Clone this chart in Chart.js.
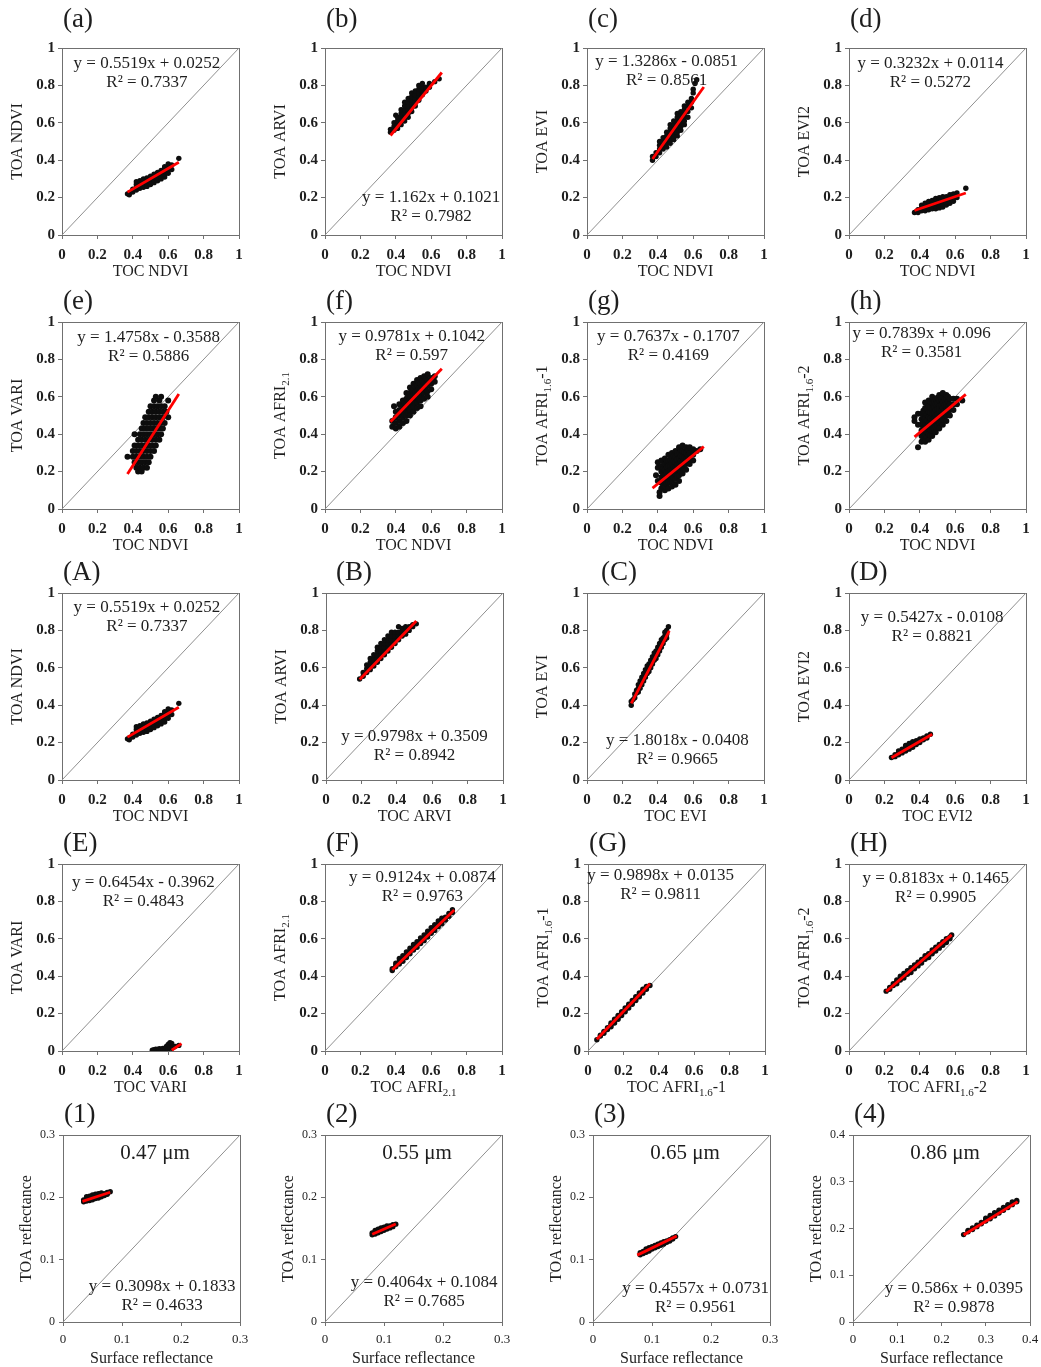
<!DOCTYPE html>
<html>
<head>
<meta charset="utf-8">
<script src="https://cdn.jsdelivr.net/npm/chart.js@4.4.1/dist/chart.umd.min.js"></script>
<style>
  html, body { margin: 0; background: #fff; overflow: hidden; }
  #fig { position: relative; width: 1041px; height: 1367px; overflow: hidden; }
  #fig canvas { position: absolute; }
</style>
</head>
<body>
<div id="fig"></div>
<script>
'use strict';

// Scatter readings: each entry is [TOC value, [TOA values at that TOC value]]
const cloud_a = [
  [0.37, [0.22]], [0.38, [0.215, 0.225]], [0.40, [0.23, 0.245]],
  [0.42, [0.24, 0.255, 0.27, 0.285]], [0.44, [0.25, 0.265, 0.28, 0.29]],
  [0.46, [0.255, 0.27, 0.285, 0.30]], [0.48, [0.26, 0.275, 0.29, 0.305]],
  [0.50, [0.27, 0.285, 0.30, 0.315]], [0.52, [0.28, 0.295, 0.31, 0.325]],
  [0.54, [0.29, 0.305, 0.32, 0.335]], [0.56, [0.30, 0.315, 0.33, 0.345]],
  [0.58, [0.31, 0.325, 0.34, 0.355, 0.365]], [0.60, [0.33, 0.35, 0.37, 0.38]],
  [0.62, [0.35, 0.375]], [0.66, [0.41]]
];
const cloud_b = [
  [0.37, [0.55, 0.565]], [0.39, [0.56, 0.58, 0.60]], [0.40, [0.64]],
  [0.41, [0.57, 0.59, 0.61, 0.63]], [0.43, [0.59, 0.61, 0.63, 0.65, 0.67]],
  [0.45, [0.61, 0.63, 0.65, 0.67, 0.69, 0.71]], [0.47, [0.63, 0.65, 0.67, 0.69, 0.71, 0.73]],
  [0.49, [0.66, 0.68, 0.70, 0.72, 0.74, 0.76]], [0.51, [0.69, 0.71, 0.73, 0.75, 0.77]],
  [0.53, [0.72, 0.74, 0.76, 0.78, 0.80]], [0.55, [0.75, 0.77, 0.79, 0.81]],
  [0.57, [0.77, 0.79]], [0.59, [0.79, 0.81]], [0.62, [0.82]], [0.645, [0.835]]
];
const cloud_c = [
  [0.37, [0.40, 0.42]], [0.39, [0.42, 0.44]], [0.41, [0.44, 0.46, 0.48, 0.50]],
  [0.43, [0.46, 0.48, 0.50, 0.52]], [0.45, [0.47, 0.49, 0.51, 0.53, 0.55]],
  [0.47, [0.49, 0.51, 0.53, 0.55, 0.57, 0.59]], [0.49, [0.51, 0.53, 0.55, 0.57, 0.59, 0.61]],
  [0.51, [0.53, 0.55, 0.57, 0.59, 0.61, 0.63, 0.65]], [0.53, [0.56, 0.58, 0.60, 0.62, 0.64, 0.66]],
  [0.55, [0.59, 0.61, 0.63, 0.65, 0.67, 0.69]], [0.57, [0.63, 0.66, 0.69, 0.71]],
  [0.59, [0.68, 0.71, 0.73]], [0.60, [0.76, 0.78]], [0.61, [0.81]], [0.62, [0.83]]
];
const cloud_d = [
  [0.37, [0.12]], [0.39, [0.12, 0.135]], [0.41, [0.13, 0.145, 0.16]],
  [0.43, [0.13, 0.145, 0.16, 0.17]], [0.45, [0.135, 0.15, 0.165, 0.18]],
  [0.47, [0.14, 0.155, 0.17, 0.185]], [0.49, [0.14, 0.155, 0.17, 0.185, 0.195]],
  [0.51, [0.145, 0.16, 0.175, 0.19, 0.20]], [0.53, [0.15, 0.165, 0.18, 0.195, 0.205]],
  [0.55, [0.16, 0.175, 0.19, 0.205]], [0.57, [0.17, 0.185, 0.20, 0.215]],
  [0.59, [0.18, 0.195, 0.21, 0.22]], [0.61, [0.20, 0.225]], [0.66, [0.25]]
];
const cloud_e = [
  [0.37, [0.28]], [0.40, [0.28, 0.31]], [0.41, [0.25, 0.34, 0.40]],
  [0.42, [0.22, 0.28, 0.31]], [0.43, [0.20, 0.25, 0.34, 0.37]],
  [0.44, [0.22, 0.28, 0.31, 0.40]], [0.45, [0.20, 0.25, 0.34, 0.37, 0.43]],
  [0.46, [0.22, 0.28, 0.31, 0.40, 0.46]], [0.47, [0.25, 0.34, 0.37, 0.43, 0.49]],
  [0.48, [0.22, 0.28, 0.31, 0.40, 0.46]], [0.49, [0.25, 0.34, 0.37, 0.43, 0.49, 0.52]],
  [0.50, [0.28, 0.31, 0.40, 0.46, 0.55]], [0.51, [0.34, 0.37, 0.43, 0.49, 0.52]],
  [0.52, [0.31, 0.40, 0.46, 0.55, 0.58]], [0.53, [0.34, 0.37, 0.43, 0.49, 0.52, 0.60]],
  [0.54, [0.40, 0.46, 0.55]], [0.55, [0.37, 0.43, 0.49, 0.52, 0.58]],
  [0.56, [0.40, 0.46, 0.55, 0.60]], [0.57, [0.43, 0.49, 0.52]],
  [0.58, [0.46, 0.55]], [0.59, [0.52]], [0.60, [0.49, 0.58]]
];
const cloud_f = [
  [0.38, [0.44, 0.47]], [0.39, [0.55]], [0.40, [0.43, 0.46, 0.49, 0.52]],
  [0.42, [0.44, 0.47, 0.50, 0.53, 0.56]], [0.44, [0.46, 0.49, 0.52, 0.55, 0.58]],
  [0.45, [0.505, 0.535, 0.565]], [0.46, [0.47, 0.50, 0.53, 0.56, 0.59, 0.62]],
  [0.47, [0.515, 0.545, 0.575, 0.605]], [0.48, [0.50, 0.53, 0.56, 0.59, 0.62, 0.65]],
  [0.49, [0.545, 0.575, 0.605, 0.635]], [0.50, [0.52, 0.55, 0.58, 0.61, 0.64, 0.67]],
  [0.51, [0.565, 0.595, 0.625, 0.655]], [0.52, [0.54, 0.57, 0.60, 0.63, 0.66, 0.69]],
  [0.53, [0.585, 0.615, 0.645, 0.675]], [0.54, [0.55, 0.58, 0.61, 0.64, 0.67, 0.70]],
  [0.55, [0.595, 0.625, 0.655, 0.685]], [0.56, [0.59, 0.62, 0.65, 0.68, 0.71]],
  [0.57, [0.635, 0.665, 0.695]], [0.58, [0.60, 0.63, 0.66, 0.69, 0.72]],
  [0.60, [0.64, 0.67, 0.70]], [0.62, [0.68, 0.71]]
];
const cloud_g = [
  [0.39, [0.18]], [0.40, [0.15, 0.22, 0.25]], [0.41, [0.07, 0.09]],
  [0.42, [0.11, 0.14, 0.17, 0.20, 0.23, 0.26]], [0.43, [0.125, 0.155, 0.185, 0.215]],
  [0.44, [0.10, 0.12, 0.15, 0.18, 0.21, 0.24, 0.27]], [0.45, [0.135, 0.165, 0.195, 0.225, 0.255]],
  [0.46, [0.11, 0.14, 0.17, 0.20, 0.23, 0.26, 0.29]], [0.47, [0.145, 0.175, 0.205, 0.235, 0.265]],
  [0.48, [0.12, 0.15, 0.18, 0.21, 0.24, 0.27, 0.30]], [0.49, [0.165, 0.195, 0.225, 0.255, 0.285]],
  [0.50, [0.13, 0.16, 0.19, 0.22, 0.25, 0.28, 0.31]], [0.51, [0.175, 0.205, 0.235, 0.265, 0.295]],
  [0.52, [0.15, 0.18, 0.21, 0.24, 0.27, 0.30, 0.33]], [0.53, [0.195, 0.225, 0.255, 0.285, 0.315]],
  [0.54, [0.19, 0.22, 0.25, 0.28, 0.31, 0.34]], [0.55, [0.215, 0.245, 0.275, 0.305]],
  [0.56, [0.21, 0.24, 0.27, 0.30, 0.33]], [0.57, [0.255, 0.285, 0.315]],
  [0.58, [0.24, 0.27, 0.30, 0.33]], [0.60, [0.26, 0.29, 0.32]], [0.62, [0.31]], [0.64, [0.32]]
];
const cloud_h = [
  [0.37, [0.47, 0.49]], [0.39, [0.33, 0.45, 0.51]],
  [0.41, [0.36, 0.39, 0.42, 0.45, 0.48, 0.51]], [0.42, [0.375, 0.405, 0.435, 0.465, 0.495, 0.525]],
  [0.43, [0.36, 0.39, 0.42, 0.45, 0.48, 0.51, 0.54, 0.57]], [0.44, [0.385, 0.415, 0.445, 0.475, 0.505, 0.535, 0.565]],
  [0.45, [0.37, 0.40, 0.43, 0.46, 0.49, 0.52, 0.55, 0.58]], [0.46, [0.395, 0.425, 0.455, 0.485, 0.515, 0.545, 0.575]],
  [0.47, [0.39, 0.42, 0.45, 0.48, 0.51, 0.54, 0.57, 0.60]], [0.48, [0.425, 0.455, 0.485, 0.515, 0.545, 0.575]],
  [0.49, [0.41, 0.44, 0.47, 0.50, 0.53, 0.56, 0.59]], [0.50, [0.445, 0.475, 0.505, 0.535, 0.565, 0.595]],
  [0.51, [0.43, 0.46, 0.49, 0.52, 0.55, 0.58, 0.61]], [0.52, [0.465, 0.495, 0.525, 0.555, 0.585, 0.60]],
  [0.53, [0.45, 0.48, 0.51, 0.54, 0.57, 0.60, 0.62]], [0.54, [0.495, 0.525, 0.555, 0.585]],
  [0.55, [0.47, 0.50, 0.53, 0.56, 0.59, 0.61]], [0.56, [0.515, 0.545, 0.575, 0.60]],
  [0.57, [0.50, 0.53, 0.56, 0.59]], [0.59, [0.53, 0.56, 0.59]], [0.61, [0.56, 0.59]], [0.64, [0.58]]
];
const cloud_B = [
  [0.19, [0.54]], [0.21, [0.555, 0.575]], [0.23, [0.575, 0.595, 0.615]],
  [0.25, [0.59, 0.61, 0.63, 0.65]], [0.27, [0.61, 0.63, 0.65, 0.67]],
  [0.29, [0.63, 0.65, 0.67, 0.69, 0.71]], [0.31, [0.65, 0.67, 0.69, 0.71, 0.73]],
  [0.33, [0.67, 0.69, 0.71, 0.73, 0.75]], [0.35, [0.69, 0.71, 0.73, 0.75, 0.77]],
  [0.37, [0.71, 0.73, 0.75, 0.77, 0.79]], [0.39, [0.73, 0.75, 0.77, 0.79]],
  [0.41, [0.75, 0.77, 0.79, 0.82]], [0.43, [0.77, 0.79, 0.81]], [0.45, [0.78, 0.80, 0.82]],
  [0.47, [0.80, 0.82]], [0.49, [0.82, 0.83]], [0.51, [0.835]]
];
const cloud_C = [
  [0.25, [0.40, 0.42]], [0.26, [0.43]], [0.27, [0.44, 0.46]], [0.28, [0.465, 0.48]],
  [0.29, [0.47, 0.49, 0.51]], [0.30, [0.49, 0.51, 0.53]], [0.31, [0.51, 0.53, 0.55]],
  [0.32, [0.53, 0.55, 0.57]], [0.33, [0.55, 0.57, 0.59]], [0.34, [0.57, 0.59, 0.61]],
  [0.35, [0.58, 0.60, 0.62]], [0.36, [0.60, 0.62, 0.64]], [0.37, [0.62, 0.64, 0.66]],
  [0.38, [0.64, 0.66, 0.68]], [0.39, [0.65, 0.67, 0.69]], [0.40, [0.67, 0.69, 0.71]],
  [0.41, [0.69, 0.71, 0.73]], [0.42, [0.71, 0.73, 0.75]], [0.43, [0.73, 0.75, 0.76]],
  [0.44, [0.75, 0.77, 0.79]], [0.45, [0.76, 0.78, 0.80]], [0.46, [0.82]]
];
const cloud_D = [
  [0.24, [0.12]], [0.26, [0.125, 0.135]], [0.28, [0.135, 0.145, 0.155]],
  [0.30, [0.145, 0.155, 0.165]], [0.32, [0.155, 0.165, 0.175, 0.185]],
  [0.34, [0.165, 0.175, 0.185, 0.195]], [0.36, [0.175, 0.185, 0.195, 0.205]],
  [0.38, [0.19, 0.20, 0.21]], [0.40, [0.20, 0.21, 0.22]], [0.42, [0.215, 0.225]],
  [0.44, [0.225, 0.235]], [0.46, [0.245]]
];
const cloud_E = [
  [0.51, [0.004]], [0.52, [0.007]], [0.53, [0.005, 0.01]], [0.54, [0.008]],
  [0.55, [0.006, 0.012]], [0.56, [0.01]], [0.57, [0.008, 0.014]], [0.58, [0.012]],
  [0.59, [0.015, 0.025]], [0.60, [0.01, 0.035]], [0.61, [0.02, 0.045]],
  [0.62, [0.015, 0.04]], [0.63, [0.02]], [0.64, [0.025]], [0.66, [0.03]]
];
const cloud_F = [
  [0.38, [0.43, 0.44]], [0.40, [0.45, 0.46, 0.47]], [0.42, [0.465, 0.48, 0.495]],
  [0.44, [0.48, 0.495, 0.51]], [0.46, [0.50, 0.515, 0.53]], [0.48, [0.52, 0.535, 0.55]],
  [0.50, [0.54, 0.555, 0.57]], [0.52, [0.555, 0.57, 0.585]], [0.54, [0.575, 0.59, 0.605]],
  [0.56, [0.59, 0.605, 0.62]], [0.58, [0.61, 0.625, 0.64]], [0.60, [0.63, 0.645, 0.66]],
  [0.62, [0.645, 0.66, 0.675]], [0.64, [0.665, 0.68, 0.695]], [0.66, [0.68, 0.695, 0.71]],
  [0.68, [0.70, 0.715]], [0.70, [0.72, 0.735]], [0.72, [0.74, 0.755]]
];
const cloud_G = [
  [0.05, [0.06]], [0.07, [0.08, 0.085]], [0.09, [0.095, 0.105]], [0.11, [0.115, 0.125]],
  [0.13, [0.13, 0.14, 0.15]], [0.15, [0.15, 0.16, 0.17]], [0.17, [0.17, 0.18, 0.19]],
  [0.19, [0.19, 0.20, 0.21]], [0.21, [0.21, 0.22, 0.23]], [0.23, [0.23, 0.24, 0.25]],
  [0.25, [0.25, 0.26, 0.27]], [0.27, [0.27, 0.28, 0.29]], [0.29, [0.29, 0.30, 0.31]],
  [0.31, [0.31, 0.32, 0.33]], [0.33, [0.33, 0.34, 0.345]], [0.35, [0.35]]
];
const cloud_H = [
  [0.21, [0.32]], [0.23, [0.33, 0.34]], [0.25, [0.35, 0.36]], [0.27, [0.36, 0.37, 0.38]],
  [0.29, [0.38, 0.39, 0.40]], [0.31, [0.39, 0.40, 0.415]], [0.33, [0.41, 0.42, 0.43]],
  [0.35, [0.42, 0.435, 0.445]], [0.37, [0.44, 0.45, 0.46]], [0.39, [0.455, 0.465, 0.475]],
  [0.41, [0.47, 0.48, 0.49]], [0.43, [0.49, 0.50, 0.51]], [0.45, [0.50, 0.51, 0.52]],
  [0.47, [0.52, 0.53, 0.54]], [0.49, [0.535, 0.545, 0.555]], [0.51, [0.55, 0.56, 0.57]],
  [0.53, [0.565, 0.575, 0.585]], [0.55, [0.58, 0.59, 0.60]], [0.57, [0.60, 0.61]], [0.58, [0.62]]
];
const cloud_1 = [
  [0.035, [0.193, 0.196]], [0.04, [0.194, 0.198, 0.201]], [0.045, [0.195, 0.199, 0.202]],
  [0.05, [0.196, 0.200, 0.204]], [0.055, [0.198, 0.201, 0.205]], [0.06, [0.199, 0.203, 0.206]],
  [0.065, [0.201, 0.204, 0.207]], [0.07, [0.203, 0.206]], [0.075, [0.205, 0.208]], [0.08, [0.209]]
];
const cloud_2 = [
  [0.08, [0.140, 0.143]], [0.085, [0.141, 0.144, 0.147]], [0.09, [0.143, 0.146, 0.149]],
  [0.095, [0.145, 0.148, 0.151]], [0.10, [0.147, 0.150, 0.152]], [0.105, [0.149, 0.152, 0.154]],
  [0.11, [0.151, 0.154]], [0.115, [0.153, 0.156]], [0.12, [0.157]]
];
const cloud_3 = [
  [0.08, [0.108, 0.111]], [0.085, [0.110, 0.113]], [0.09, [0.112, 0.115, 0.117]],
  [0.095, [0.114, 0.117, 0.119]], [0.10, [0.117, 0.119, 0.121]], [0.105, [0.119, 0.121, 0.123]],
  [0.11, [0.121, 0.123, 0.125]], [0.115, [0.123, 0.125, 0.127]], [0.12, [0.125, 0.127, 0.129]],
  [0.125, [0.128, 0.130]], [0.13, [0.130, 0.132]], [0.135, [0.133, 0.135]], [0.14, [0.137]]
];
const cloud_4 = [
  [0.25, [0.187]], [0.26, [0.193, 0.196]], [0.27, [0.198, 0.201]], [0.28, [0.204, 0.207]],
  [0.29, [0.210, 0.213]], [0.30, [0.216, 0.219, 0.222]], [0.31, [0.221, 0.225, 0.228]],
  [0.32, [0.227, 0.231, 0.234]], [0.33, [0.233, 0.237, 0.239]], [0.34, [0.239, 0.242, 0.245]],
  [0.35, [0.245, 0.248, 0.251]], [0.36, [0.251, 0.254, 0.257]], [0.37, [0.257, 0.260]]
];

const panelIds = ['a', 'b', 'c', 'd', 'e', 'f', 'g', 'h',
  'A', 'B', 'C', 'D', 'E', 'F', 'G', 'H', '1', '2', '3', '4'];
const clouds = [cloud_a, cloud_b, cloud_c, cloud_d, cloud_e, cloud_f, cloud_g, cloud_h,
  cloud_a, cloud_B, cloud_C, cloud_D, cloud_E, cloud_F, cloud_G, cloud_H,
  cloud_1, cloud_2, cloud_3, cloud_4];

// "~" marks the start and end of a subscript
const xTitles = ['TOC NDVI', 'TOC NDVI', 'TOC NDVI', 'TOC NDVI',
  'TOC NDVI', 'TOC NDVI', 'TOC NDVI', 'TOC NDVI',
  'TOC NDVI', 'TOC ARVI', 'TOC EVI', 'TOC EVI2',
  'TOC VARI', 'TOC AFRI~2.1~', 'TOC AFRI~1.6~-1', 'TOC AFRI~1.6~-2',
  'Surface reflectance', 'Surface reflectance', 'Surface reflectance', 'Surface reflectance'];
const yTitles = ['TOA NDVI', 'TOA ARVI', 'TOA EVI', 'TOA EVI2',
  'TOA VARI', 'TOA AFRI~2.1~', 'TOA AFRI~1.6~-1', 'TOA AFRI~1.6~-2',
  'TOA NDVI', 'TOA ARVI', 'TOA EVI', 'TOA EVI2',
  'TOA VARI', 'TOA AFRI~2.1~', 'TOA AFRI~1.6~-1', 'TOA AFRI~1.6~-2',
  'TOA reflectance', 'TOA reflectance', 'TOA reflectance', 'TOA reflectance'];

const slopes = [0.5519, 1.162, 1.3286, 0.3232, 1.4758, 0.9781, 0.7637, 0.7839,
  0.5519, 0.9798, 1.8018, 0.5427, 0.6454, 0.9124, 0.9898, 0.8183,
  0.3098, 0.4064, 0.4557, 0.586];
const intercepts = [0.0252, 0.1021, -0.0851, 0.0114, -0.3588, 0.1042, -0.1707, 0.096,
  0.0252, 0.3509, -0.0408, -0.0108, -0.3962, 0.0874, 0.0135, 0.1465,
  0.1833, 0.1084, 0.0731, 0.0395];
const rSquared = ['0.7337', '0.7982', '0.8561', '0.5272', '0.5886', '0.597', '0.4169', '0.3581',
  '0.7337', '0.8942', '0.9665', '0.8821', '0.4843', '0.9763', '0.9811', '0.9905',
  '0.4633', '0.7685', '0.9561', '0.9878'];
const fitStart = [0.37, 0.37, 0.37, 0.37, 0.37, 0.37, 0.37, 0.37,
  0.37, 0.19, 0.25, 0.24, 0.62, 0.38, 0.05, 0.21,
  0.033, 0.08, 0.075, 0.25];
const fitEnd = [0.66, 0.66, 0.66, 0.66, 0.66, 0.66, 0.66, 0.66,
  0.66, 0.51, 0.465, 0.47, 0.675, 0.73, 0.35, 0.58,
  0.08, 0.12, 0.142, 0.372];

const axisMax = [1, 1, 1, 1, 1, 1, 1, 1, 1, 1, 1, 1, 1, 1, 1, 1, 0.3, 0.3, 0.3, 0.4];
const tickStep = [0.2, 0.2, 0.2, 0.2, 0.2, 0.2, 0.2, 0.2, 0.2, 0.2, 0.2, 0.2, 0.2, 0.2, 0.2, 0.2,
  0.1, 0.1, 0.1, 0.1];
const bandLabels = {16: '0.47 μm', 17: '0.55 μm', 18: '0.65 μm', 19: '0.86 μm'};

// ---- layout ----
const SERIF = "'Liberation Serif', 'Times New Roman', serif";
const TEXT = '#1e1e1e';
const BOX = '#707070';
const AXIS_W = 62, TOP_PAD = 48, PLOT_W = 177, PLOT_H = 187;
const CANVAS_W = 262, CANVAS_H = 290;
const colLeft = [[62, 325, 587, 849], [62, 325, 587, 849], [62, 326, 587, 849],
  [62, 325, 588, 849], [63, 325, 593, 853]];
const rowTop = [48, 322, 593, 864, 1135];
// centre of the equation block, as fractions of the plot box
const eqAt = [[0.48, 0.085], [0.60, 0.80], [0.45, 0.07], [0.46, 0.085],
  [0.49, 0.085], [0.49, 0.08], [0.46, 0.08], [0.41, 0.06],
  [0.48, 0.08], [0.50, 0.77], [0.51, 0.79], [0.47, 0.13],
  [0.46, 0.10], [0.55, 0.075], [0.41, 0.06], [0.49, 0.08],
  [0.56, 0.81], [0.56, 0.79], [0.58, 0.82], [0.57, 0.82]];
const labelShift = {9: 9, 10: 13};
// the wide, loose clouds in the second row get slightly bigger dots
const dotRadius = i => (i >= 4 && i <= 7 ? 3 : 2.7);

const fmt = v => String(+v.toFixed(2));

function richText(ctx, str, cx, cy, size) {
  const parts = str.split('~');
  const main = size + 'px ' + SERIF;
  const sub = Math.round(size * 0.68) + 'px ' + SERIF;
  let w = 0;
  parts.forEach((p, k) => { ctx.font = k % 2 ? sub : main; w += ctx.measureText(p).width; });
  let x = cx - w / 2;
  ctx.textAlign = 'left';
  ctx.textBaseline = 'middle';
  parts.forEach((p, k) => {
    ctx.font = k % 2 ? sub : main;
    ctx.fillText(p, x, cy + (k % 2 ? size * 0.3 : 0));
    x += ctx.measureText(p).width;
  });
}

function equationText(i) {
  const b = intercepts[i];
  return 'y = ' + slopes[i] + 'x ' + (b < 0 ? '- ' : '+ ') + Math.abs(b);
}

function buildPanel(i) {
  const row = Math.floor(i / 4), col = i % 4;
  const bottomRow = row === 4;
  const canvas = document.createElement('canvas');
  canvas.width = CANVAS_W;
  canvas.height = CANVAS_H;
  canvas.style.left = (colLeft[row][col] - AXIS_W) + 'px';
  canvas.style.top = (rowTop[row] - TOP_PAD) + 'px';
  document.getElementById('fig').appendChild(canvas);

  const max = axisMax[i];
  const points = [];
  clouds[i].forEach(([x, ys]) => ys.forEach(y => points.push({x: x, y: y})));
  const fitLine = [fitStart[i], fitEnd[i]].map(x => ({x: x, y: slopes[i] * x + intercepts[i]}));

  const boxAndText = {
    id: 'boxAndText',
    beforeDatasetsDraw(chart) {
      const {ctx, chartArea: a} = chart;
      ctx.save();
      ctx.strokeStyle = BOX;
      ctx.lineWidth = 1;
      ctx.strokeRect(a.left + 0.5, a.top + 0.5, a.right - a.left, a.bottom - a.top);
      ctx.restore();
    },
    afterDraw(chart) {
      const {ctx, chartArea: a} = chart;
      const w = a.right - a.left, h = a.bottom - a.top;
      ctx.save();
      ctx.fillStyle = TEXT;

      ctx.font = '27px ' + SERIF;
      ctx.textAlign = 'left';
      ctx.textBaseline = 'middle';
      ctx.fillText('(' + panelIds[i] + ')', a.left + 1 + (labelShift[i] || 0), a.top - (row === 0 ? 28 : 20));

      const ex = a.left + eqAt[i][0] * w, ey = a.top + eqAt[i][1] * h;
      ctx.font = '17px ' + SERIF;
      ctx.textAlign = 'center';
      ctx.fillText(equationText(i), ex, ey);
      ctx.fillText('R² = ' + rSquared[i], ex, ey + 19);

      if (bandLabels[i]) {
        ctx.font = '21px ' + SERIF;
        ctx.fillText(bandLabels[i], a.left + 0.52 * w, a.top + 0.10 * h);
      }

      richText(ctx, xTitles[i], a.left + w / 2, a.bottom + 37, 16);
      ctx.translate(a.left - (bottomRow ? 36 : 44), a.top + h / 2);
      ctx.rotate(-Math.PI / 2);
      richText(ctx, yTitles[i], 0, 0, 16);
      ctx.restore();
    }
  };

  const tickFont = bottomRow ? {family: SERIF, size: 13} : {family: SERIF, size: 15, weight: 'bold'};
  const yTickFont = bottomRow ? {family: SERIF, size: 12} : tickFont;

  new Chart(canvas.getContext('2d'), {
    type: 'scatter',
    data: {
      datasets: [
        {
          data: fitLine, showLine: true, borderColor: '#ff0000', borderWidth: 2.8,
          pointRadius: 0, fill: false
        },
        {
          data: points, pointRadius: dotRadius(i), pointBorderWidth: 0,
          pointBackgroundColor: '#0d0d0d', showLine: false
        },
        {
          data: [{x: 0, y: 0}, {x: max, y: max}], showLine: true,
          borderColor: '#8f8f8f', borderWidth: 1, pointRadius: 0, fill: false
        }
      ]
    },
    options: {
      responsive: false,
      animation: false,
      devicePixelRatio: 1,
      layout: {padding: {top: TOP_PAD, left: 0, right: CANVAS_W - AXIS_W - PLOT_W, bottom: 0}},
      plugins: {legend: {display: false}, tooltip: {enabled: false}},
      scales: {
        x: {
          type: 'linear', min: 0, max: max,
          afterFit: s => { s.height = CANVAS_H - TOP_PAD - PLOT_H; },
          ticks: {
            stepSize: tickStep[i], autoSkip: false, maxRotation: 0,
            padding: bottomRow ? 6 : 7, color: TEXT, font: tickFont, callback: fmt
          },
          grid: {drawOnChartArea: false, drawTicks: true, tickLength: 4, color: BOX},
          border: {display: false}
        },
        y: {
          type: 'linear', min: 0, max: max,
          afterFit: s => { s.width = AXIS_W; },
          ticks: {
            stepSize: tickStep[i], autoSkip: false,
            padding: bottomRow ? 4 : 3, color: TEXT, font: yTickFont, callback: fmt
          },
          grid: {drawOnChartArea: false, drawTicks: true, tickLength: 4, color: BOX},
          border: {display: false}
        }
      }
    },
    plugins: [boxAndText]
  });
}

for (let i = 0; i < panelIds.length; i++) buildPanel(i);
</script>
</body>
</html>
